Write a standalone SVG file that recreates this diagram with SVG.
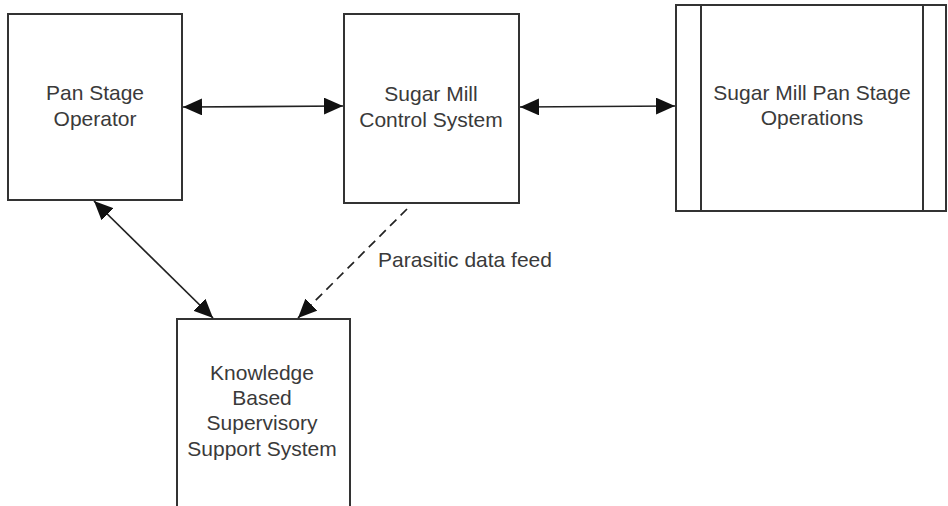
<svg xmlns="http://www.w3.org/2000/svg" width="948" height="506" viewBox="0 0 948 506">
  <style>
    .box { fill: #ffffff; stroke: #333333; stroke-width: 2; }
    .lbl { font-family: "Liberation Sans", Arial, sans-serif; font-size: 21px; fill: #3a3a3a; text-anchor: middle; }
    .edge { fill: none; stroke: #222222; stroke-width: 1.7; }
    .dash { stroke-dasharray: 9 6; }
  </style>
  <defs>
    <marker id="head" viewBox="0 0 19 17" refX="19" refY="8.5" markerWidth="19" markerHeight="17" markerUnits="userSpaceOnUse" orient="auto-start-reverse">
      <path d="M0,0 L19,8.5 L0,17 Z" fill="#111111"/>
    </marker>
  </defs>
  <rect width="948" height="506" fill="#ffffff"/>

  <g id="operator">
    <rect class="box" x="8" y="14" width="174" height="186"/>
    <text class="lbl" x="95" y="100">Pan Stage</text>
    <text class="lbl" x="95" y="126">Operator</text>
  </g>

  <g id="control-system">
    <rect class="box" x="344" y="14" width="175" height="189"/>
    <text class="lbl" x="431" y="101">Sugar Mill</text>
    <text class="lbl" x="431" y="127">Control System</text>
  </g>

  <g id="pan-stage-operations">
    <rect class="box" x="676" y="5" width="270" height="206"/>
    <line class="box" x1="701" y1="5" x2="701" y2="211"/>
    <line class="box" x1="923" y1="5" x2="923" y2="211"/>
    <text class="lbl" x="812" y="100">Sugar Mill Pan Stage</text>
    <text class="lbl" x="812" y="125">Operations</text>
  </g>

  <g id="kbsss">
    <rect class="box" x="177" y="319" width="173" height="190"/>
    <text class="lbl" x="262" y="380">Knowledge</text>
    <text class="lbl" x="262" y="405">Based</text>
    <text class="lbl" x="262" y="430">Supervisory</text>
    <text class="lbl" x="262" y="456">Support System</text>
  </g>

  <g id="connectors">
    <line class="edge" x1="183" y1="107" x2="343" y2="106" marker-start="url(#head)" marker-end="url(#head)"/>
    <line class="edge" x1="520" y1="107" x2="675" y2="106" marker-start="url(#head)" marker-end="url(#head)"/>
    <line class="edge" x1="94" y1="201" x2="213" y2="318" marker-start="url(#head)" marker-end="url(#head)"/>
    <line class="edge dash" x1="407" y1="209" x2="298" y2="318" marker-end="url(#head)"/>
    <text class="lbl" x="465" y="267">Parasitic data feed</text>
  </g>
</svg>
